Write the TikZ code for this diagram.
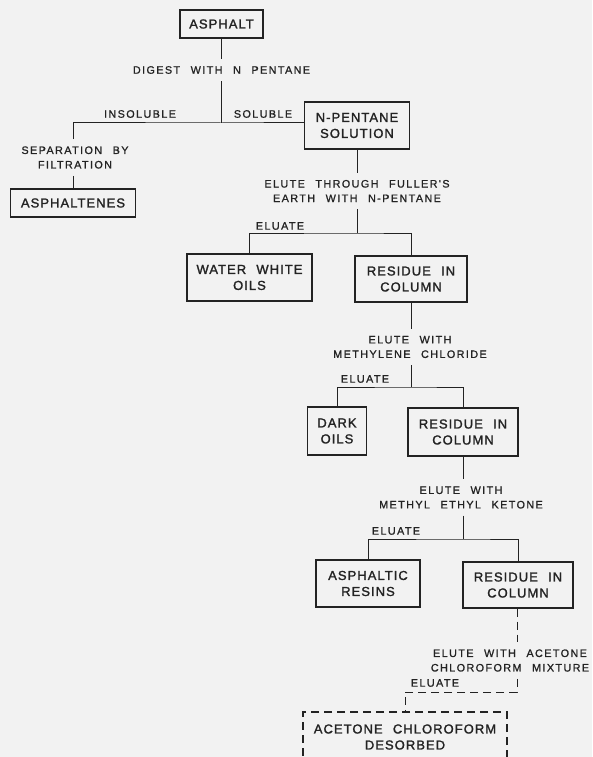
\documentclass[tikz,border=0pt]{standalone}
\usepackage{fontspec}
\newfontfamily\boxfont{Liberation Sans}[LetterSpace=8,WordSpace=2.2,FakeBold=1.6]
\newfontfamily\labelfont{Liberation Sans}[LetterSpace=13,WordSpace=2.4,FakeBold=1]
\definecolor{paper}{RGB}{242,242,242}
\definecolor{ink}{RGB}{35,35,35}

\begin{document}
\begin{tikzpicture}[x=1pt,y=-1pt]
    \fill[paper] (0,0) rectangle (592,757);
    \useasboundingbox (0,0) rectangle (592,757);

    % boxes
    \begin{scope}[every node/.style={draw=ink,text=ink,line width=1.3pt,align=center,inner sep=0pt,font=\boxfont\fontsize{13}{16}\selectfont}]
        \node[minimum width=83,minimum height=28] (asphalt) at (221.5,24) {ASPHALT};
        \node[minimum width=105,minimum height=47] (npentane) at (357,125.5) {N-PENTANE\\SOLUTION};
        \node[minimum width=125,minimum height=28] (asphaltenes) at (73,203) {ASPHALTENES};
        \node[minimum width=125,minimum height=47] (water) at (249.5,277.5) {WATER WHITE\\OILS};
        \node[minimum width=112,minimum height=46] (residueA) at (411,279) {RESIDUE IN\\COLUMN};
        \node[minimum width=59,minimum height=48] (dark) at (337,431) {DARK\\OILS};
        \node[minimum width=110,minimum height=48] (residueB) at (463,432) {RESIDUE IN\\COLUMN};
        \node[minimum width=104,minimum height=47] (resins) at (368,583.5) {ASPHALTIC\\RESINS};
        \node[minimum width=110,minimum height=46] (residueC) at (518,585) {RESIDUE IN\\COLUMN};
        \node[dash pattern=on 8pt off 5pt,minimum width=204,minimum height=50] (desorbed) at (405,737) {ACETONE CHLOROFORM\\DESORBED};
    \end{scope}

    % labels
    \begin{scope}[every node/.style={text=ink,align=center,inner xsep=0pt,inner ysep=7pt,font=\labelfont\fontsize{10.8}{14.5}\selectfont}]
        \node (digest) at (221.5,70) {DIGEST WITH N PENTANE};
        \node (insoluble) at (140,114) {INSOLUBLE};
        \node (soluble) at (263,114) {SOLUBLE};
        \node (separation) at (75,157.5) {SEPARATION BY\\FILTRATION};
        \node (fuller) at (357,191) {ELUTE THROUGH FULLER'S\\EARTH WITH N-PENTANE};
        \node (eluateA) at (280,226) {ELUATE};
        \node (methylene) at (410,347) {ELUTE WITH\\METHYLENE CHLORIDE};
        \node (eluateB) at (365,379) {ELUATE};
        \node (mek) at (461,497.5) {ELUTE WITH\\METHYL ETHYL KETONE};
        \node (eluateC) at (396,531) {ELUATE};
        \node (acetone) at (510,660.5) {ELUTE WITH ACETONE\\CHLOROFORM MIXTURE};
        \node (eluateD) at (435,683) {ELUATE};
    \end{scope}

    \coordinate (splitA) at (221.5,123);
    \coordinate (splitB) at (357,233);
    \coordinate (splitC) at (411,387);
    \coordinate (splitD) at (463,539);
    \coordinate (splitE) at (517,692);

    % connectors
    \begin{scope}[draw=ink,line width=1pt]
        \draw (asphalt) -- (digest);
        \draw (digest) -- (splitA);
        \draw (asphaltenes.north |- separation.north) |- (splitA) -- (npentane.west |- splitA);
        \draw (asphaltenes.north |- separation.south) -- (asphaltenes.north);
        \draw (npentane) -- (fuller);
        \draw (fuller) -- (splitB);
        \draw (water.north) |- (splitB) -| (residueA.north);
        \draw (residueA.south) -- (residueA.south |- methylene.north);
        \draw (residueA.south |- methylene.south) -- (splitC);
        \draw (dark.north) |- (splitC) -| (residueB.north);
        \draw (residueB.south) -- (residueB.south |- mek.north);
        \draw (residueB.south |- mek.south) -- (splitD);
        \draw (resins.north) |- (splitD) -| (residueC.north);
        \draw[dash pattern=on 8pt off 5pt] (residueC.south -| splitE) -- (acetone.north -| splitE);
        \draw[dash pattern=on 8pt off 5pt] (acetone.south -| splitE) -- (splitE) -| (desorbed.north);
    \end{scope}
\end{tikzpicture}
\end{document}
